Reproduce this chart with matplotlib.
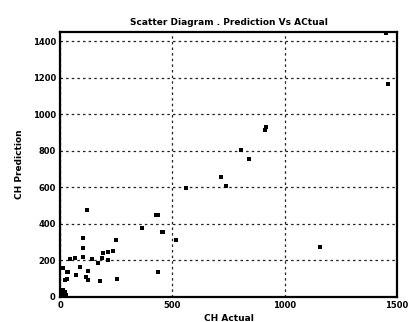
import matplotlib
matplotlib.use('Agg')
import matplotlib.pyplot as plt

# values
actual = [121, 436, 365, 456, 247, 104, 104, 192, 214, 237, 104, 44, 67, 143, 167,
          185, 214, 15, 89, 123, 37, 71, 114, 30, 123, 178, 252, 436, 518,
          12, 30, 22, 429, 363, 459,
          912, 918, 843, 717, 740, 562, 806, 1157, 1453, 1462,
          5, 10, 15, 20, 8, 3, 12, 18, 25, 22, 6, 14]
predicted = [477, 449, 380, 354, 309, 325, 267, 243, 247, 252, 221, 206, 212, 208, 188,
             212, 203, 157, 163, 144, 139, 120, 108, 97, 93, 89, 99, 137, 312,
             159, 139, 93, 449, 376, 354,
             915, 928, 754, 659, 610, 595, 805, 276, 1445, 1167,
             10, 20, 5, 25, 30, 3, 15, 8, 12, 28, 22, 35]

x_ticks = [0, 500, 1000, 1500]
y_ticks = [0, 200, 400, 600, 800, 1000, 1200, 1400]

fig = plt.figure(figsize=(4.11, 3.22), dpi=100)
ax = fig.add_axes([0.146, 0.078, 0.82, 0.822])

ax.scatter(actual, predicted, marker='s', s=5, color='black', linewidths=0, zorder=3)

ax.set_xlim(0, 1500)
ax.set_ylim(0, 1450)
ax.set_xticks(x_ticks)
ax.set_yticks(y_ticks)
ax.tick_params(labelsize=6, length=0, pad=3)
for lbl in ax.get_xticklabels() + ax.get_yticklabels():
    lbl.set_fontweight('bold')

ax.grid(True, linestyle=(0, (2, 2.5)), color='#222222', linewidth=0.9)
for s in ax.spines.values():
    s.set_linewidth(1.6)

ax.set_title('Scatter Diagram . Prediction Vs ACtual', fontsize=6.5, fontweight='bold', pad=5)
ax.set_xlabel('CH Actual', fontsize=6.5, fontweight='bold', labelpad=3)
ax.set_ylabel('CH Prediction', fontsize=6.5, fontweight='bold', labelpad=6)

fig.savefig('out.png', dpi=100)
